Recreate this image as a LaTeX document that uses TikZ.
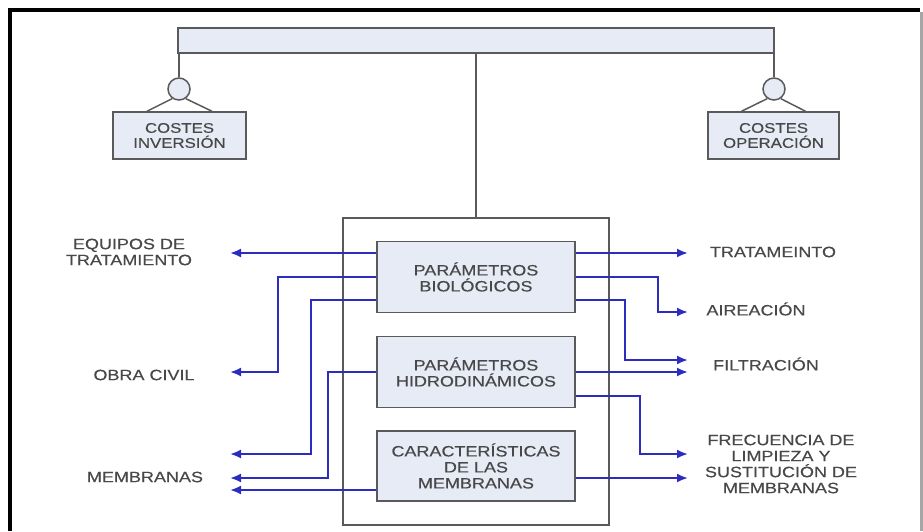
\documentclass[tikz,border=0pt]{standalone}
\usepackage{fontspec}
\setmainfont[FakeStretch=1.2,FakeBold=0.35]{Liberation Sans}
\usetikzlibrary{arrows.meta,calc}
\definecolor{boxfill}{HTML}{E6EBF5}
\definecolor{boxline}{HTML}{5A5A5A}
\definecolor{txt}{HTML}{484848}
\definecolor{flowblue}{RGB}{44,44,190}
\tikzset{
  box/.style={draw=boxline, fill=boxfill, line width=1.5pt, text=txt, align=center, inner sep=0pt,
    font=\fontsize{15}{16}\selectfont},
  smallbox/.style={box, font=\fontsize{14}{15}\selectfont},
  conn/.style={draw=boxline, line width=1.5pt},
  flow/.style={draw=flowblue, line width=2pt, -{Latex[length=11pt,width=9pt]}},
  lbl/.style={text=txt, align=center, inner sep=0pt, font=\fontsize{15}{16}\selectfont},
}
\begin{document}
\begin{tikzpicture}[x=1pt,y=-1pt]
\useasboundingbox (0,0) rectangle (923,531);
% outer frame
\draw[line width=3.5pt, black] (10,531) -- (10,10) -- (920,10);
\draw[line width=3pt, gray!70] (921.5,12) -- (921.5,531);

% top bar
\node[box, minimum width=596pt, minimum height=25pt] (bar) at (476,40.5) {};
% circles and cost boxes
\node[box, circle, minimum size=22pt] (c1) at (179,89) {};
\node[box, circle, minimum size=22pt] (c2) at (774,89) {};
\node[smallbox, minimum width=133pt, minimum height=47pt] (inv) at (179.5,135.5) {COSTES\\INVERSIÓN};
\node[smallbox, minimum width=131pt, minimum height=47pt] (ope) at (773.5,135.5) {COSTES\\OPERACIÓN};
\draw[conn] (c1.north) -- (c1.north |- bar.south);
\draw[conn] (c2.north) -- (c2.north |- bar.south);
\draw[conn] (c1.235) -- ($(inv.north)+(-32.5,0)$);
\draw[conn] (c1.305) -- ($(inv.north)+(32.5,0)$);
\draw[conn] (c2.235) -- ($(ope.north)+(-32,0)$);
\draw[conn] (c2.305) -- ($(ope.north)+(32,0)$);

% big box and inner boxes
\node[draw=boxline, line width=1.5pt, fill=white, minimum width=266pt, minimum height=307pt, inner sep=0pt] (big) at (476,371.5) {};
\draw[conn] (bar.south) -- (big.north);
\node[box, minimum width=198pt, minimum height=71pt] (bio) at (476,277) {PARÁMETROS\\BIOLÓGICOS};
\node[box, minimum width=198pt, minimum height=71pt] (hid) at (476,372) {PARÁMETROS\\HIDRODINÁMICOS};
\node[box, minimum width=198pt, minimum height=70pt] (car) at (476,466) {CARACTERÍSTICAS\\DE LAS\\MEMBRANAS};

% arrow end points
\coordinate (tEq) at (230,253);
\coordinate (tOb) at (230,372);
\coordinate (tM1) at (230,454);
\coordinate (tM2) at (230,478);
\coordinate (tM3) at (230,490);
\coordinate (rTr) at (688,253);
\coordinate (rAi) at (688,312);
\coordinate (rF1) at (688,360);
\coordinate (rF2) at (688,372);
\coordinate (rFr) at (688,454);
\coordinate (rMe) at (688,478);

% left flows
\draw[flow] (bio.west |- tEq) -- (tEq);
\draw[flow] (bio.west) -| ([xshift=48pt]tOb) -- (tOb);
\draw[flow] ([yshift=-23pt]bio.west) -| ([xshift=81pt]tM1) -- (tM1);
\draw[flow] (hid.west) -| ([xshift=98pt]tM2) -- (tM2);
\draw[flow] (car.west |- tM3) -- (tM3);
% right flows
\draw[flow] (bio.east |- rTr) -- (rTr);
\draw[flow] (bio.east) -| ([xshift=-30pt]rAi) -- (rAi);
\draw[flow] ([yshift=-23pt]bio.east) -| ([xshift=-63pt]rF1) -- (rF1);
\draw[flow] (hid.east |- rF2) -- (rF2);
\draw[flow] ([yshift=-24pt]hid.east) -| ([xshift=-48pt]rFr) -- (rFr);
\draw[flow] (car.east |- rMe) -- (rMe);

% labels
\node[lbl] (lEq) at (129,252) {EQUIPOS DE\\TRATAMIENTO};
\node[lbl] (lOb) at (144,375) {OBRA CIVIL};
\node[lbl] (lMe) at (145,477) {MEMBRANAS};
\node[lbl] (lTr) at (773,252) {TRATAMEINTO};
\node[lbl] (lAi) at (756,309) {AIREACIÓN};
\node[lbl] (lFi) at (766,364) {FILTRACIÓN};
\node[lbl] (lFr) at (781,464) {FRECUENCIA DE\\LIMPIEZA Y\\SUSTITUCIÓN DE\\MEMBRANAS};
\end{tikzpicture}
\end{document}
